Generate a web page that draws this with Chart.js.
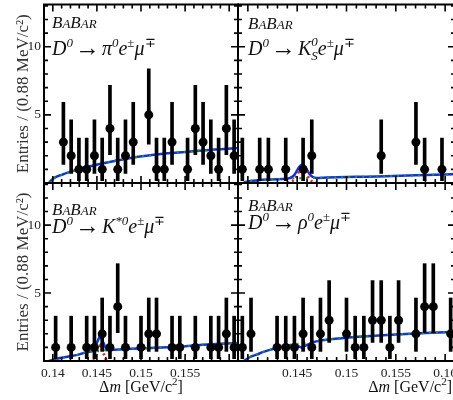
<!DOCTYPE html>
<html><head><meta charset="utf-8">
<script src="https://cdn.jsdelivr.net/npm/chart.js@4.4.1/dist/chart.umd.min.js"></script>
<style>
html,body{margin:0;padding:0;background:#fff;overflow:hidden;width:453px;height:400px;position:relative;}
canvas{position:absolute;}
</style></head><body>
<canvas id="c1" width="245" height="190" style="left:0px;top:0px"></canvas>
<canvas id="c2" width="235" height="190" style="left:232px;top:0px"></canvas>
<canvas id="c3" width="245" height="224" style="left:0px;top:176px"></canvas>
<canvas id="c4" width="235" height="224" style="left:232px;top:176px"></canvas>
<script>
// ---- data ----
const binCenters = [0.13944,0.14032,0.1412,0.14208,0.14296,0.14384,0.14472,0.1456,0.14648,0.14736,0.14824,0.14912,0.15,0.15088,0.15176,0.15264,0.15352,0.1544,0.15528,0.15616,0.15704,0.15792,0.1588,0.15968,0.16056];
const countsPi0   = [0,0,3,2,1,1,2,1,4,1,2,3,0,5,1,1,3,0,1,4,3,2,1,4,2];
const countsKs    = [1,0,1,1,0,1,0,1,2,0,0,0,0,0,0,0,2,0,0,0,3,1,0,1,0];
const countsKstar = [0,1,0,1,0,1,1,2,1,4,1,0,1,2,2,0,1,1,0,1,0,1,1,2,1];
const countsRho   = [1,2,0,0,1,1,1,2,1,2,3,0,2,1,1,3,3,1,3,0,2,4,4,0,2];
// 68% Poisson interval half-widths for n = 0..5
const poissonErrLow  = [0,0.827,1.292,1.633,1.914,2.159];
const poissonErrHigh = [0,2.299,2.637,2.918,3.162,3.382];
// fitted curves [dm, entries]
const curvePi0Total = [[0.13957,0],[0.1397,0.12],[0.1400,0.3],[0.1405,0.48],[0.1410,0.6],[0.1416,0.74],[0.1425,0.93],[0.1437,1.15],[0.1452,1.38],[0.1470,1.62],[0.1490,1.86],[0.1510,2.03],[0.1530,2.18],[0.1550,2.28],[0.1570,2.39],[0.1590,2.48],[0.161,2.57]];
const curvePi0Bkg   = curvePi0Total;
const curveKsTotal  = [[0.13957,0],[0.1398,0.08],[0.1402,0.14],[0.1410,0.2],[0.1420,0.25],[0.1435,0.3],[0.1440,0.32],[0.1445,0.45],[0.1448,0.69],[0.1450,0.94],[0.1452,1.17],[0.1455,1.35],[0.1458,1.19],[0.1460,0.96],[0.1462,0.72],[0.1465,0.48],[0.1470,0.37],[0.1480,0.4],[0.1510,0.45],[0.1540,0.5],[0.1570,0.56],[0.1600,0.63],[0.161,0.66]];
const curveKsBkg    = [[0.13957,0],[0.1398,0.08],[0.1402,0.14],[0.1410,0.2],[0.1420,0.25],[0.1435,0.3],[0.1455,0.35],[0.1480,0.4],[0.1510,0.45],[0.1540,0.5],[0.1570,0.56],[0.1600,0.63],[0.161,0.66]];
const curveKsSig    = [[0.1440,0.01],[0.1445,0.13],[0.1448,0.37],[0.1450,0.61],[0.1452,0.84],[0.1455,1.0],[0.1458,0.84],[0.1460,0.61],[0.1462,0.37],[0.1465,0.13],[0.1470,0.01]];
const curveKstarTotal = [[0.13957,0],[0.1398,0.05],[0.1403,0.15],[0.1410,0.24],[0.1418,0.33],[0.1428,0.45],[0.1437,0.62],[0.1446,0.74],[0.14537,1.9],[0.1461,0.8],[0.1470,0.83],[0.1490,0.9],[0.1510,0.96],[0.1530,1.02],[0.1550,1.08],[0.1570,1.2],[0.1590,1.27],[0.161,1.33]];
const curveKstarBkg   = [[0.13957,0],[0.1398,0.05],[0.1403,0.15],[0.1410,0.24],[0.1418,0.33],[0.1428,0.45],[0.1437,0.62],[0.1446,0.74],[0.1454,0.77],[0.1461,0.8],[0.1470,0.83],[0.1490,0.9],[0.1510,0.96],[0.1530,1.02],[0.1550,1.08],[0.1570,1.2],[0.1590,1.27],[0.161,1.33]];
const curveKstarSig   = [[0.1446,0],[0.14537,1.12],[0.1461,0]];
const curveRhoBkg   = [[0.13957,0],[0.1399,0.15],[0.1403,0.32],[0.1409,0.47],[0.1415,0.65],[0.1429,0.94],[0.1443,1.17],[0.1458,1.33],[0.1475,1.52],[0.1495,1.68],[0.1520,1.82],[0.1550,1.95],[0.1580,2.06],[0.161,2.15]];
const curveRhoTotal = [[0.13957,0],[0.1399,0.15],[0.1403,0.32],[0.1409,0.47],[0.1415,0.65],[0.1429,0.94],[0.1443,1.17],[0.1450,1.12],[0.14546,1.0],[0.1459,1.15],[0.1466,1.38],[0.1475,1.52],[0.1495,1.68],[0.1520,1.82],[0.1550,1.95],[0.1580,2.06],[0.161,2.15]];
// axes
const xRange = [0.139, 0.161];
const yRange = [0, 13.1];
const xTickLabels = ['0.14','0.145','0.15','0.155','0.16'];
const yTickLabels = ['5','10'];
const yTitle = 'Entries / (0.88 MeV/c\u00B2)';

Chart.defaults.font.family = '"Liberation Serif", "Times New Roman", serif';
Chart.defaults.color = '#222';

const SERIF = '"Liberation Serif"';
function drawRich(ctx, x, y, segs, align) {
  ctx.save();
  ctx.fillStyle = '#111';
  ctx.textBaseline = 'alphabetic';
  ctx.textAlign = 'left';
  const fontOf = s => (s.it ? 'italic ' : '') + s.s + 'px ' + SERIF;
  let total = 0;
  const widths = segs.map(s => { ctx.font = fontOf(s); const w = ctx.measureText(s.t).width + (s.gap || 0) * 2; if (s.adv !== false) total += w; return w; });
  let cx = align === 'right' ? x - total : (align === 'center' ? x - total / 2 : x);
  segs.forEach((s, i) => { ctx.font = fontOf(s); ctx.fillText(s.t, cx + (s.gap || 0), y + (s.dy || 0)); if (s.adv !== false) cx += widths[i]; });
  ctx.restore();
}
const babar = [{t:'B',s:17,it:1},{t:'A',s:13,it:1},{t:'B',s:17,it:1},{t:'AR',s:13,it:1}];
const dmTitle = [{t:'\u0394',s:16},{t:'m',s:16,it:1},{t:' [GeV/c',s:16},{t:'2',s:11,dy:-7},{t:']',s:16}];
function decay(mid) {
  return [{t:'D',s:20,it:1},{t:'0',s:13,it:1,dy:-8},{t:'\u2192',s:25,gap:2,dy:1}].concat(mid,
    [{t:'e',s:20,it:1},{t:'\u00B1',s:13,dy:-8},{t:'\u03BC',s:20,it:1},{t:'\u2213',s:13,dy:-8}]);
}
const decayPi0 = decay([{t:'\u03C0',s:20,it:1},{t:'0',s:13,it:1,dy:-8}]);
const decayKs = decay([{t:'K',s:20,it:1},{t:'0',s:13,it:1,dy:-9,adv:false},{t:'S',s:13,it:1,dy:5}]);
const decayKstar = decay([{t:'K',s:20,it:1},{t:'*0',s:13,it:1,dy:-8}]);
const decayRho = decay([{t:'\u03C1',s:20,it:1},{t:'0',s:13,it:1,dy:-8}]);

const framePlugin = {
  id: 'frame',
  afterDatasetsDraw(chart) {
    const {ctx, chartArea: a, scales: {x, y}} = chart;
    ctx.save();
    ctx.strokeStyle = '#000';
    ctx.lineWidth = 1.6;
    ctx.beginPath();
    for (let k = 139; k <= 161; k++) {
      const px = x.getPixelForValue(k / 1000);
      const len = (k % 5 === 0) ? 7 : 4;
      ctx.moveTo(px, a.bottom); ctx.lineTo(px, a.bottom - len);
      ctx.moveTo(px, a.top); ctx.lineTo(px, a.top + len);
    }
    for (let k = 0; k <= 13; k++) {
      const py = y.getPixelForValue(k);
      const len = (k % 5 === 0) ? 7 : 4;
      ctx.moveTo(a.left, py); ctx.lineTo(a.left + len, py);
      ctx.moveTo(a.right, py); ctx.lineTo(a.right - len, py);
    }
    ctx.stroke();
    ctx.lineWidth = 2;
    ctx.strokeRect(a.left, a.top, a.right - a.left, a.bottom - a.top);
    ctx.restore();
  }
};
function textPlugin(items) {
  return { id: 'txt', afterDraw(chart) { items.forEach(it => drawRich(chart.ctx, it.x, it.y, it.segs, it.align)); } };
}
const toXY = arr => arr.map(p => ({x: p[0], y: p[1]}));

function buildDatasets(counts, total, bkg, sig, straight) {
  const pts = [], bars = [];
  counts.forEach((n, i) => {
    if (n > 0) {
      pts.push({x: binCenters[i], y: n});
      bars.push({x: binCenters[i], y: [n - poissonErrLow[n], n + poissonErrHigh[n]]});
    }
  });
  const lineOpts = straight ? {tension: 0} : {cubicInterpolationMode: 'monotone'};
  const ds = [
    {type: 'scatter', data: pts, pointRadius: 4.5, pointBackgroundColor: '#000', pointBorderWidth: 0, order: 0},
    {type: 'bar', data: bars, backgroundColor: '#000', borderWidth: 0, barThickness: 3, order: 1},
    Object.assign({type: 'line', data: toXY(bkg), borderColor: '#1a9a1a', borderWidth: 2, borderDash: [2, 5], pointRadius: 0, fill: false, order: 2}, lineOpts),
    Object.assign({type: 'line', data: toXY(total), borderColor: '#1030e8', borderWidth: 2.5, pointRadius: 0, fill: false, order: 4}, lineOpts)
  ];
  if (sig) ds.push(Object.assign({type: 'line', data: toXY(sig), borderColor: '#ee1010', borderWidth: 2.5, borderDash: [2, 3], pointRadius: 0, fill: false, order: 3}, lineOpts));
  return ds;
}

function matchLabel(v, list) {
  for (const l of list) if (Math.abs(parseFloat(l) - v) < 1e-6) return l;
  return '';
}

function makeChart(id, cfg) {
  const xScale = {
    type: 'linear', min: xRange[0], max: xRange[1], offset: false,
    display: cfg.xLabels ? true : false,
    grid: {display: false, drawTicks: false}, border: {display: false},
    ticks: {stepSize: 0.005, autoSkip: false, maxRotation: 0, minRotation: 0, includeBounds: false, padding: 4,
      font: {size: 13.5}, color: '#222',
      callback: v => { const l = matchLabel(v, xTickLabels); return (cfg.xLabels || []).includes(l) ? l : ''; }},
    afterFit: s => { s.paddingLeft = 0; s.paddingRight = 0; if (s.options.display) s.height = 39; }
  };
  const yScale = {
    type: 'linear', min: yRange[0], max: yRange[1],
    display: cfg.yLabels ? true : false,
    grid: {display: false, drawTicks: false}, border: {display: false},
    ticks: {stepSize: 5, includeBounds: false, padding: 3, font: {size: 13.5}, color: '#222',
      callback: v => matchLabel(v, yTickLabels)},
    title: {display: !!cfg.yLabels, text: yTitle, font: {size: 17}, color: '#333', padding: {top: 13, bottom: 0}},
    afterFit: s => { s.paddingTop = 0; s.paddingBottom = 0; if (s.options.display) s.width = 44; }
  };
  return new Chart(document.getElementById(id), {
    type: 'bar',
    data: {datasets: cfg.datasets},
    options: {
      responsive: false, animation: false, devicePixelRatio: 1, events: [],
      layout: {padding: cfg.padding},
      plugins: {legend: {display: false}, tooltip: {enabled: false}},
      scales: {x: xScale, y: yScale}
    },
    plugins: [framePlugin, textPlugin(cfg.texts)]
  });
}

makeChart('c1', {
  datasets: buildDatasets(countsPi0, curvePi0Total, curvePi0Bkg, null, false),
  padding: {left: 0, top: 4, right: 7, bottom: 7}, yLabels: true, xLabels: null,
  texts: [{x: 52, y: 28, segs: babar}, {x: 52, y: 55, segs: decayPi0}]
});
makeChart('c2', {
  datasets: buildDatasets(countsKs, curveKsTotal, curveKsBkg, curveKsSig, false),
  padding: {left: 6, top: 4, right: 12, bottom: 7}, yLabels: false, xLabels: null,
  texts: [{x: 16, y: 29, segs: babar}, {x: 16, y: 55, segs: decayKs}]
});
makeChart('c3', {
  datasets: buildDatasets(countsKstar, curveKstarTotal, curveKstarBkg, curveKstarSig, true),
  padding: {left: 0, top: 7, right: 7, bottom: 0}, yLabels: true, xLabels: ['0.14','0.145','0.15','0.155'],
  texts: [{x: 52, y: 39, segs: babar}, {x: 52, y: 57, segs: decayKstar}, {x: 141, y: 216, segs: dmTitle, align: 'center'}]
});
makeChart('c4', {
  datasets: buildDatasets(countsRho, curveRhoTotal, curveRhoBkg, null, false),
  padding: {left: 6, top: 7, right: 12, bottom: 0}, yLabels: false, xLabels: ['0.145','0.15','0.155','0.16'],
  texts: [{x: 16, y: 35, segs: babar}, {x: 16, y: 53, segs: decayRho}, {x: 220, y: 216, segs: dmTitle, align: 'right'}]
});
</script>
</body></html>
